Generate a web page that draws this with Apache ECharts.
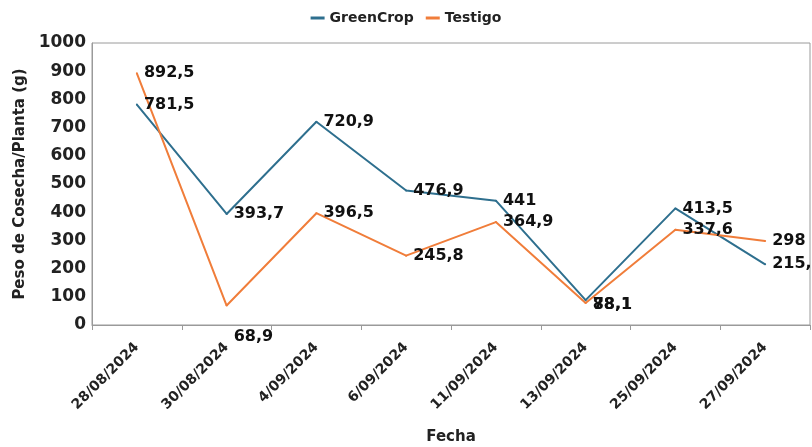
<!DOCTYPE html>
<html>
<head>
<meta charset="utf-8">
<script src="https://cdn.jsdelivr.net/npm/echarts@6/dist/echarts.min.js"></script>
<style>
html,body{margin:0;padding:0;background:#fff;}
#chart{width:812px;height:447px;}
</style>
</head>
<body>
<div id="chart"></div>
<script>
var fechas = ['28/08/2024','30/08/2024','4/09/2024','6/09/2024','11/09/2024','13/09/2024','25/09/2024','27/09/2024'];
var greenCrop = [781.5, 393.7, 720.9, 476.9, 441, 88.1, 413.5, 215.1];
var testigo = [892.5, 68.9, 396.5, 245.8, 364.9, 78.1, 337.6, 298];

var fuente = 'DejaVu Sans';

function etiqueta(v){
    return String(v).replace('.', ',');
}

window.onload = function(){
    var chart = echarts.init(document.getElementById('chart'));

    var labelBase = {
        show: true,
        position: 'right',
        distance: 6,
        color: '#111',
        fontFamily: fuente,
        fontWeight: 'bold',
        fontSize: 16,
        formatter: function(p){ return etiqueta(p.value); }
    };

    var greenData = greenCrop.map(function(v, i){
        if (i === 5) {
            return { value: v, label: { offset: [0, 5] } };
        }
        return v;
    });

    var testigoData = testigo.map(function(v, i){
        if (i === 1) {
            return { value: v, label: { offset: [0, 31] } };
        }
        if (i === 5) {
            return { value: v, label: { offset: [0, 2] } };
        }
        return v;
    });

    chart.setOption({
        animation: false,
        legend: {
            top: 6,
            left: 'center',
            itemWidth: 14,
            itemHeight: 3,
            itemGap: 12,
            icon: 'rect',
            textStyle: { fontFamily: fuente, fontWeight: 'bold', fontSize: 14, color: '#222' },
            data: ['GreenCrop', 'Testigo']
        },
        grid: {
            left: 92, right: 2, top: 43, bottom: 122,
            outerBoundsMode: 'none',
            containLabel: false,
            show: true, borderColor: '#9a9a9a', borderWidth: 1
        },
        xAxis: {
            type: 'category',
            data: fechas,
            boundaryGap: true,
            name: 'Fecha',
            nameLocation: 'middle',
            nameGap: 105,
            nameTextStyle: { fontFamily: fuente, fontWeight: 'bold', fontSize: 15, color: '#222' },
            axisLine: { lineStyle: { color: '#9a9a9a' } },
            axisTick: { show: true, length: 5, lineStyle: { color: '#9a9a9a' } },
            axisLabel: {
                rotate: 45,
                margin: 20,
                fontFamily: fuente,
                fontWeight: 'bold',
                fontSize: 14,
                color: '#222'
            }
        },
        yAxis: {
            type: 'value',
            min: 0,
            max: 1000,
            interval: 100,
            name: 'Peso de Cosecha/Planta (g)',
            nameLocation: 'middle',
            nameGap: 64,
            nameTextStyle: { fontFamily: fuente, fontWeight: 'bold', fontSize: 15, color: '#222' },
            splitLine: { show: false },
            axisLine: { show: true, lineStyle: { color: '#9a9a9a' } },
            axisTick: { show: false },
            axisLabel: {
                fontFamily: fuente, fontWeight: 'bold', fontSize: 17, color: '#222', margin: 6,
                formatter: function(v){ return String(v); }
            }
        },
        series: [
            {
                name: 'GreenCrop',
                type: 'line',
                data: greenData,
                symbol: 'circle',
                symbolSize: 2,
                showSymbol: true,
                lineStyle: { color: '#2e6f8e', width: 2 },
                itemStyle: { color: '#2e6f8e' },
                label: labelBase
            },
            {
                name: 'Testigo',
                type: 'line',
                data: testigoData,
                symbol: 'circle',
                symbolSize: 2,
                showSymbol: true,
                lineStyle: { color: '#f07d3a', width: 2 },
                itemStyle: { color: '#f07d3a' },
                label: labelBase
            }
        ]
    });
};
</script>
</body>
</html>
